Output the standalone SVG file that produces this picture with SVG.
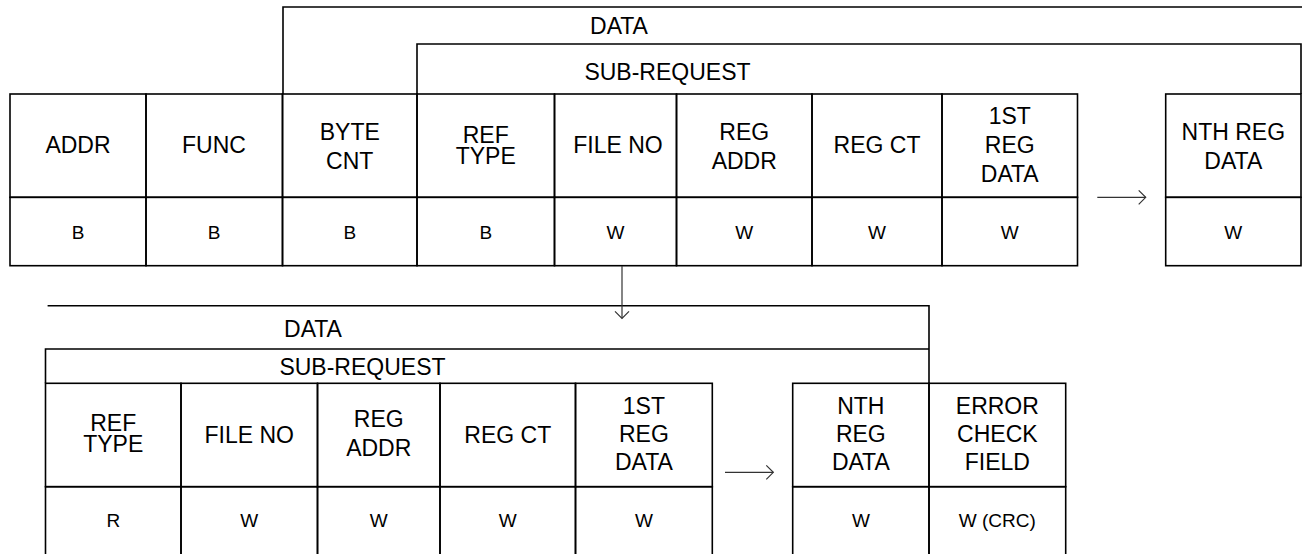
<svg xmlns="http://www.w3.org/2000/svg" width="1302" height="554" viewBox="0 0 1302 554">
<defs>
<style>
.b{fill:none;stroke:#000;stroke-width:1.6}
.h{font-family:"Liberation Sans",Arial,sans-serif;font-size:23px;text-anchor:middle;fill:#000}
.v{font-family:"Liberation Sans",Arial,sans-serif;font-size:19px;text-anchor:middle;fill:#000}
.a{fill:none;stroke:#333;stroke-width:1.2}
</style>
<marker id="ah" markerUnits="userSpaceOnUse" markerWidth="20" markerHeight="20" viewBox="-10 -10 20 20" refX="0" refY="0" orient="auto">
<path d="M-7,-7 L0,0 L-7,7" fill="none" stroke="#333" stroke-width="1.2"/>
</marker>
</defs>
<rect width="1302" height="554" fill="#fff"/>

<g id="top-data-bracket">
<path class="b" d="M283,94 V7 H1303"/>
<text class="h" x="619" y="34.3">DATA</text>
</g>
<g id="top-subrequest-bracket">
<path class="b" d="M417,94 V44 H1301 V94"/>
<text class="h" x="667.5" y="80">SUB-REQUEST</text>
</g>

<g id="t-addr">
<rect class="b" x="10" y="94" width="136" height="103.3"/>
<rect class="b" x="10" y="197.3" width="136" height="68.4"/>
<text class="h" x="78" y="153.3">ADDR</text>
<text class="v" x="78" y="239">B</text>
</g>
<g id="t-func">
<rect class="b" x="146" y="94" width="136.5" height="103.3"/>
<rect class="b" x="146" y="197.3" width="136.5" height="68.4"/>
<text class="h" x="214" y="153.3">FUNC</text>
<text class="v" x="214" y="239">B</text>
</g>
<g id="t-bytecnt">
<rect class="b" x="282.5" y="94" width="134.5" height="103.3"/>
<rect class="b" x="282.5" y="197.3" width="134.5" height="68.4"/>
<text class="h" x="349.75" y="139.5">BYTE</text>
<text class="h" x="349.75" y="168.5">CNT</text>
<text class="v" x="349.75" y="239">B</text>
</g>
<g id="t-reftype">
<rect class="b" x="417" y="94" width="137.5" height="103.3"/>
<rect class="b" x="417" y="197.3" width="137.5" height="68.4"/>
<text class="h" x="485.75" y="143">REF</text>
<text class="h" x="485.75" y="163.5">TYPE</text>
<text class="v" x="485.75" y="239">B</text>
</g>
<g id="t-fileno">
<rect class="b" x="554.5" y="94" width="122" height="103.3"/>
<rect class="b" x="554.5" y="197.3" width="122" height="68.4"/>
<text class="h" x="618" y="153.3">FILE NO</text>
<text class="v" x="615.5" y="239">W</text>
</g>
<g id="t-regaddr">
<rect class="b" x="676.5" y="94" width="135.5" height="103.3"/>
<rect class="b" x="676.5" y="197.3" width="135.5" height="68.4"/>
<text class="h" x="744.25" y="139.5">REG</text>
<text class="h" x="744.25" y="168.5">ADDR</text>
<text class="v" x="744.25" y="239">W</text>
</g>
<g id="t-regct">
<rect class="b" x="812" y="94" width="130" height="103.3"/>
<rect class="b" x="812" y="197.3" width="130" height="68.4"/>
<text class="h" x="877" y="153.3">REG CT</text>
<text class="v" x="877" y="239">W</text>
</g>
<g id="t-1streg">
<rect class="b" x="942" y="94" width="135.5" height="103.3"/>
<rect class="b" x="942" y="197.3" width="135.5" height="68.4"/>
<text class="h" x="1009.75" y="123.7">1ST</text>
<text class="h" x="1009.75" y="152.7">REG</text>
<text class="h" x="1009.75" y="181.5">DATA</text>
<text class="v" x="1009.75" y="239">W</text>
</g>
<g id="t-nthreg">
<rect class="b" x="1165.7" y="94" width="135.3" height="103.3"/>
<rect class="b" x="1165.7" y="197.3" width="135.3" height="68.4"/>
<text class="h" x="1233.3" y="139.5">NTH REG</text>
<text class="h" x="1233.3" y="168.5">DATA</text>
<text class="v" x="1233.3" y="239">W</text>
</g>

<g id="bottom-data-bracket">
<path class="b" d="M47.6,305.7 H929 V383.3"/>
<text class="h" x="313" y="336.7">DATA</text>
</g>
<g id="bottom-subrequest-bracket">
<path class="b" d="M45.5,383.3 V349 H929"/>
<text class="h" x="362.5" y="375">SUB-REQUEST</text>
</g>

<g id="b-reftype">
<rect class="b" x="45.5" y="383.3" width="135.5" height="103.4"/>
<rect class="b" x="45.5" y="486.7" width="135.5" height="69.3"/>
<text class="h" x="113.25" y="430.5">REF</text>
<text class="h" x="113.25" y="451.7">TYPE</text>
<text class="v" x="113.25" y="527">R</text>
</g>
<g id="b-fileno">
<rect class="b" x="181" y="383.3" width="136.5" height="103.4"/>
<rect class="b" x="181" y="486.7" width="136.5" height="69.3"/>
<text class="h" x="249.25" y="442.7">FILE NO</text>
<text class="v" x="249.25" y="527">W</text>
</g>
<g id="b-regaddr">
<rect class="b" x="317.5" y="383.3" width="122.5" height="103.4"/>
<rect class="b" x="317.5" y="486.7" width="122.5" height="69.3"/>
<text class="h" x="378.75" y="427">REG</text>
<text class="h" x="378.75" y="456.3">ADDR</text>
<text class="v" x="378.75" y="527">W</text>
</g>
<g id="b-regct">
<rect class="b" x="440" y="383.3" width="135.5" height="103.4"/>
<rect class="b" x="440" y="486.7" width="135.5" height="69.3"/>
<text class="h" x="507.75" y="442.7">REG CT</text>
<text class="v" x="507.75" y="527">W</text>
</g>
<g id="b-1streg">
<rect class="b" x="575.5" y="383.3" width="136.8" height="103.4"/>
<rect class="b" x="575.5" y="486.7" width="136.8" height="69.3"/>
<text class="h" x="643.9" y="413.7">1ST</text>
<text class="h" x="643.9" y="442">REG</text>
<text class="h" x="643.9" y="470.3">DATA</text>
<text class="v" x="643.9" y="527">W</text>
</g>
<g id="b-nthreg">
<rect class="b" x="792.7" y="383.3" width="136.3" height="103.4"/>
<rect class="b" x="792.7" y="486.7" width="136.3" height="69.3"/>
<text class="h" x="860.85" y="413.7">NTH</text>
<text class="h" x="860.85" y="442">REG</text>
<text class="h" x="860.85" y="470.3">DATA</text>
<text class="v" x="860.85" y="527">W</text>
</g>
<g id="b-errorcheck">
<rect class="b" x="929" y="383.3" width="136.7" height="103.4"/>
<rect class="b" x="929" y="486.7" width="136.7" height="69.3"/>
<text class="h" x="997.35" y="413.7">ERROR</text>
<text class="h" x="997.35" y="442">CHECK</text>
<text class="h" x="997.35" y="470.3">FIELD</text>
<text class="v" x="997.35" y="527">W (CRC)</text>
</g>

<g id="connectors">
<line class="a" x1="1097.3" y1="197.3" x2="1145.7" y2="197.3" marker-end="url(#ah)"/>
<line class="a" x1="622" y1="266" x2="622" y2="318.3" marker-end="url(#ah)"/>
<line class="a" x1="725" y1="472.3" x2="773.3" y2="472.3" marker-end="url(#ah)"/>
</g>
</svg>
